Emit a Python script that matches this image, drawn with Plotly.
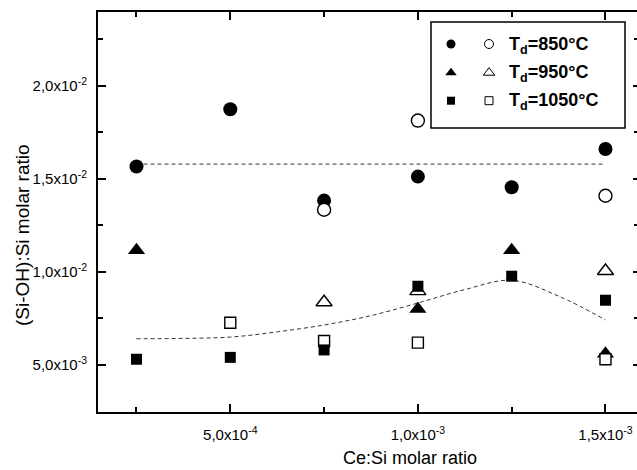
import plotly.graph_objects as go

# ---- data ----
x_all = [2.5e-4, 5.0e-4, 7.5e-4, 1.0e-3, 1.25e-3, 1.5e-3]

y850_filled = [1.566e-2, 1.874e-2, 1.383e-2, 1.512e-2, 1.455e-2, 1.660e-2]
x850_open = [7.5e-4, 1.0e-3, 1.5e-3]
y850_open = [1.334e-2, 1.813e-2, 1.409e-2]

x950_filled = [2.5e-4, 1.0e-3, 1.25e-3, 1.5e-3]
y950_filled = [1.117e-2, 8.01e-3, 1.117e-2, 5.60e-3]
x950_open = [7.5e-4, 1.0e-3, 1.5e-3]
y950_open = [8.37e-3, 8.97e-3, 1.005e-2]

y1050_filled = [5.31e-3, 5.41e-3, 5.81e-3, 9.23e-3, 9.77e-3, 8.48e-3]
x1050_open = [5.0e-4, 7.5e-4, 1.0e-3, 1.5e-3]
y1050_open = [7.27e-3, 6.29e-3, 6.20e-3, 5.31e-3]

fit850_x = [2.5e-4, 1.5e-3]
fit850_y = [1.579e-2, 1.579e-2]
fit1050_x = [2.5e-4, 3.75e-4, 5.0e-4, 6.25e-4, 7.5e-4, 8.75e-4, 1.0e-3, 1.125e-3, 1.25e-3, 1.375e-3, 1.5e-3]
fit1050_y = [6.41e-3, 6.43e-3, 6.50e-3, 6.78e-3, 7.15e-3, 7.65e-3, 8.33e-3, 9.05e-3, 9.55e-3, 8.70e-3, 7.42e-3]

x_tickvals = [5.0e-4, 1.0e-3, 1.5e-3]
x_ticktext = ["5,0x10<sup>-4</sup>", "1,0x10<sup>-3</sup>", "1,5x10<sup>-3</sup>"]
y_tickvals = [5.0e-3, 1.0e-2, 1.5e-2, 2.0e-2]
y_ticktext = ["5,0x10<sup>-3</sup>", "1,0x10<sup>-2</sup>", "1,5x10<sup>-2</sup>", "2,0x10<sup>-2</sup>"]

legend_labels = ["T<sub>d</sub>=850°C", "T<sub>d</sub>=950°C", "T<sub>d</sub>=1050°C"]

FONT = "Liberation Sans, Arial, sans-serif"
X_RANGE = [1.474e-4, 1.584e-3]
Y_RANGE = [2.476e-3, 2.396e-2]
ML, MR, MT, MB = 98, 0, 12, 58
W, H = 637, 470

fig = go.Figure()

dash = "4px,3px"
fig.add_trace(go.Scatter(x=fit850_x, y=fit850_y, mode="lines",
                         line=dict(color="#333", width=1, dash=dash)))
fig.add_trace(go.Scatter(x=fit1050_x, y=fit1050_y, mode="lines", line_shape="spline",
                         line=dict(color="#333", width=1, dash=dash)))

fig.add_trace(go.Scatter(x=x_all, y=y850_filled, mode="markers",
                         marker=dict(symbol="circle", size=14, color="black", line=dict(width=0))))
fig.add_trace(go.Scatter(x=x850_open, y=y850_open, mode="markers",
                         marker=dict(symbol="circle", size=13, color="white",
                                     line=dict(color="black", width=1.4))))
fig.add_trace(go.Scatter(x=x950_filled, y=y950_filled, mode="markers",
                         marker=dict(symbol="triangle-up", size=15, color="black", line=dict(width=0))))
fig.add_trace(go.Scatter(x=x950_open, y=y950_open, mode="markers",
                         marker=dict(symbol="triangle-up", size=14, color="white",
                                     line=dict(color="black", width=1.4))))
fig.add_trace(go.Scatter(x=x1050_open, y=y1050_open, mode="markers",
                         marker=dict(symbol="square", size=11, color="white",
                                     line=dict(color="black", width=1.4))))
fig.add_trace(go.Scatter(x=x_all, y=y1050_filled, mode="markers",
                         marker=dict(symbol="square", size=11, color="black", line=dict(width=0))))

# dummy trace to carry the right-hand tick axis
fig.add_trace(go.Scatter(x=[None], y=[None], yaxis="y2", mode="markers", showlegend=False))

# ---- hand-made legend on a pixel-space overlay axis ----
leg_rows_y = [44, 72.7, 100.7]
leg_sym_f = ["circle", "triangle-up", "square"]
leg_sym_o = ["circle-open", "triangle-up-open", "square-open"]
leg_sizes = [9, 10, 8]
for i in range(3):
    fig.add_trace(go.Scatter(x=[451], y=[leg_rows_y[i]], xaxis="x2", yaxis="y3", mode="markers",
                             marker=dict(symbol=leg_sym_f[i], size=leg_sizes[i], color="black")))
    fig.add_trace(go.Scatter(x=[489], y=[leg_rows_y[i]], xaxis="x2", yaxis="y3", mode="markers",
                             marker=dict(symbol=leg_sym_o[i], size=leg_sizes[i], color="black",
                                         line=dict(width=1))))

annotations = []
for i in range(3):
    annotations.append(dict(x=507, y=leg_rows_y[i] + 1, xref="x2", yref="y3", xanchor="left",
                            yanchor="middle", showarrow=False,
                            text="<b>" + legend_labels[i] + "</b>",
                            font=dict(family=FONT, size=18, color="black")))

annotations.append(dict(x=(410 - ML) / (W - ML - MR), y=(H - MB - 458) / (H - MT - MB),
                        xref="paper", yref="paper", showarrow=False, xanchor="center", yanchor="middle",
                        text="Ce:Si molar ratio", font=dict(family=FONT, size=18, color="black")))
annotations.append(dict(x=(22 - ML) / (W - ML - MR), y=(H - MB - 235) / (H - MT - MB),
                        xref="paper", yref="paper", showarrow=False, xanchor="center", yanchor="middle",
                        textangle=-90,
                        text="(Si-OH):Si molar ratio", font=dict(family=FONT, size=19, color="black")))

axis_common = dict(showgrid=False, zeroline=False, ticks="inside", tickcolor="black",
                   tickwidth=1.5, linecolor="black", linewidth=2)

fig.update_layout(
    width=W, height=H, autosize=False,
    margin=dict(l=ML, r=MR, t=MT, b=MB),
    paper_bgcolor="white", plot_bgcolor="white",
    showlegend=False,
    font=dict(family=FONT, size=15, color="black"),
    xaxis=dict(range=X_RANGE, tickmode="array", tickvals=x_tickvals, ticktext=x_ticktext,
               ticklen=8, showline=True, mirror="ticks", ticklabelstandoff=8,
               minor=dict(tick0=0, dtick=2.5e-4, ticks="inside", ticklen=5, tickcolor="black", tickwidth=1.5),
               tickfont=dict(family=FONT, size=15), **axis_common),
    yaxis=dict(range=Y_RANGE, tickmode="array", tickvals=y_tickvals, ticktext=y_ticktext,
               ticklen=8, showline=True, mirror=False, ticklabelstandoff=6,
               minor=dict(tick0=0, dtick=2.5e-3, ticks="inside", ticklen=5, tickcolor="black", tickwidth=1.5),
               tickfont=dict(family=FONT, size=15), **axis_common),
    yaxis2=dict(range=Y_RANGE, overlaying="y", side="right", anchor="x", showline=False,
                showgrid=False, zeroline=False, tickmode="array", tickvals=y_tickvals,
                ticks="inside", ticklen=4, tickwidth=1.5, tickcolor="black", showticklabels=False,
                minor=dict(tick0=0, dtick=2.5e-3, ticks="inside", ticklen=3, tickcolor="black", tickwidth=1.5)),
    xaxis2=dict(range=[ML, W - MR], overlaying="x", visible=False, fixedrange=True),
    yaxis3=dict(range=[H - MB, MT], overlaying="y", visible=False, fixedrange=True),
    annotations=annotations,
    shapes=[dict(type="rect", xref="x2", yref="y3", x0=431, x1=625, y0=22, y1=128,
                 line=dict(color="black", width=1.5), fillcolor="rgba(0,0,0,0)", layer="below")],
)

fig.write_html("out.html")
